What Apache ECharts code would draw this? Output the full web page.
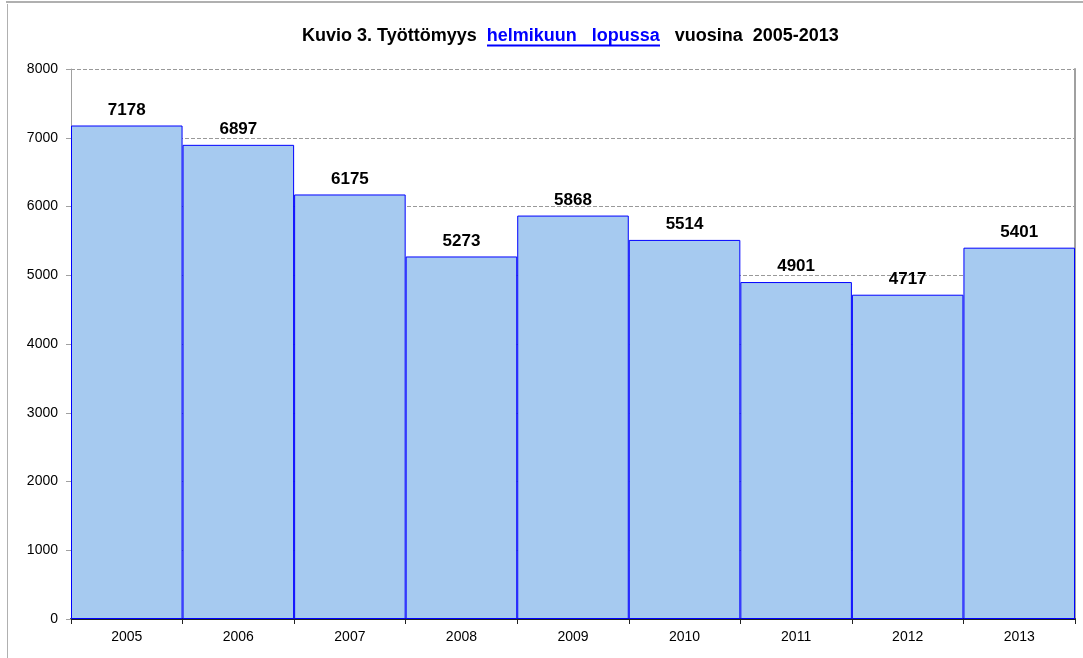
<!DOCTYPE html>
<html>
<head>
<meta charset="utf-8">
<script src="https://cdn.jsdelivr.net/npm/echarts@6/dist/echarts.min.js"></script>
<style>
html,body{margin:0;padding:0;background:#fff;}
#chart{width:1083px;height:658px;}
</style>
</head>
<body>
<div id="chart"></div>
<script>
const categories = ['2005','2006','2007','2008','2009','2010','2011','2012','2013'];
const values = [7178, 6897, 6175, 5273, 5868, 5514, 4901, 4717, 5401];
const yTicks = [0, 1000, 2000, 3000, 4000, 5000, 6000, 7000, 8000];

const chart = echarts.init(document.getElementById('chart'));
const font = 'Liberation Sans';
chart.setOption({
  backgroundColor: '#fff',
  animation: false,
  title: {
    text: '{a|Kuvio 3. Työttömyys}{a|  }{b|helmikuun   lopussa}{a|   vuosina  2005-2013}',
    left: 297, top: 22,
    textStyle: {
      fontFamily: font, fontSize: 18, fontWeight: 'bold', color: '#000',
      rich: {
        a: {fontFamily: font, fontSize: 18, fontWeight: 'bold', color: '#000'},
        b: {fontFamily: font, fontSize: 18, fontWeight: 'bold', color: '#0000FF'}
      }
    }
  },
  graphic: [
    {type: 'rect', shape: {x: 487, y: 44.5, width: 173, height: 2}, style: {fill: '#0000FF'}, silent: true},
    {type: 'line', shape: {x1: 6, y1: 2, x2: 1083, y2: 2}, style: {stroke: '#b0b0b0', lineWidth: 2}, silent: true},
    {type: 'line', shape: {x1: 7.5, y1: 4, x2: 7.5, y2: 658}, style: {stroke: '#b0b0b0', lineWidth: 1}, silent: true}
  ],
  grid: {left: 71, right: 8, top: 69, bottom: 39, containLabel: false},
  xAxis: {
    type: 'category',
    data: categories,
    boundaryGap: true,
    axisLine: {lineStyle: {color: '#222', width: 2}},
    axisTick: {show: true, length: 5, lineStyle: {color: '#222'}},
    axisLabel: {fontFamily: font, fontSize: 14, color: '#000', margin: 11}
  },
  yAxis: [{
    type: 'value',
    min: 0, max: 8000, interval: 1000,
    axisLine: {show: true, lineStyle: {color: '#a0a0a0'}},
    axisTick: {show: true, length: 5, lineStyle: {color: '#a0a0a0'}},
    axisLabel: {fontFamily: font, fontSize: 14, color: '#000', margin: 13,
      formatter: v => yTicks.includes(v) ? String(v) : ''},
    splitLine: {show: true, lineStyle: {color: '#999', type: [4, 2], width: 1}}
  }, {
    type: 'value', position: 'right',
    min: 0, max: 8000, interval: 1000,
    axisLine: {show: true, lineStyle: {color: '#a0a0a0', width: 2}},
    axisTick: {show: false}, axisLabel: {show: false}, splitLine: {show: false}
  }],
  series: [{
    type: 'bar',
    data: values,
    barCategoryGap: '0%',
    itemStyle: {color: '#A6CAF0', borderColor: '#0000FF', borderWidth: 1},
    label: {show: true, position: 'top', distance: 7,
      fontFamily: font, fontSize: 17, fontWeight: 'bold', color: '#000'}
  }]
});
</script>
</body>
</html>
